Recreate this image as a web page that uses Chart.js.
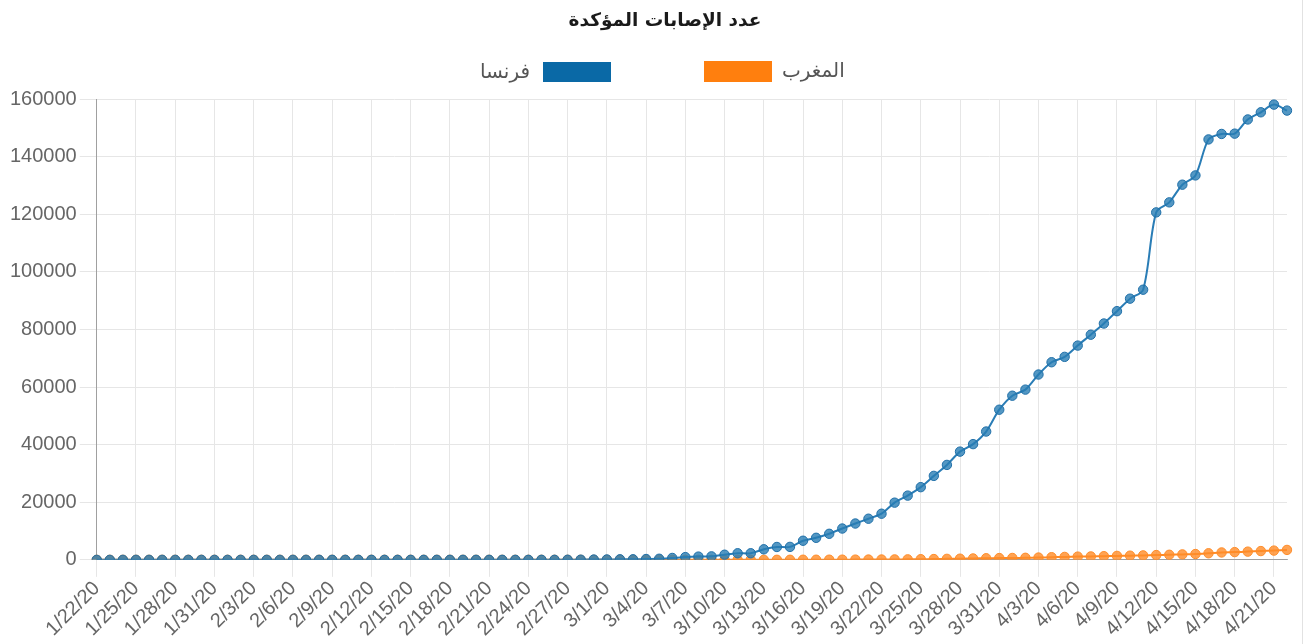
<!DOCTYPE html>
<html>
<head>
<meta charset="utf-8">
<script src="https://cdn.jsdelivr.net/npm/chart.js@4/dist/chart.umd.min.js"></script>
<style>
html,body{margin:0;padding:0;background:#fff;}
#wrap{position:relative;width:1315px;height:644px;overflow:hidden;}
#c{position:absolute;left:0;top:0;}
#vline{position:absolute;left:1302px;top:0;width:1px;height:644px;background:#e2e2e2;}
#ttl{position:absolute;left:465px;width:400px;top:8px;text-align:center;font-family:'DejaVu Sans',sans-serif;font-weight:bold;font-size:18.5px;line-height:24px;color:#1a1a1a;white-space:nowrap;}
.lg{position:absolute;font-family:'DejaVu Sans',sans-serif;font-size:20px;color:#555;line-height:24px;white-space:nowrap;}
.box{position:absolute;}
</style>
</head>
<body>
<div id="wrap">
<canvas id="c" width="1315" height="644"></canvas>
<div id="vline"></div>
<div id="ttl" dir="rtl"></div>
<div class="lg" id="lgFr" dir="rtl" style="right:785px;top:59px;"></div>
<div class="box" id="boxFr" style="left:543px;top:62px;width:68px;height:20px;"></div>
<div class="box" id="boxMa" style="left:704px;top:61px;width:68px;height:21px;"></div>
<div class="lg" id="lgMa" dir="rtl" style="left:782px;top:58px;"></div>
</div>
<script>
const title = 'عدد الإصابات المؤكدة';
const seriesNames = ['فرنسا', 'المغرب'];
const seriesColors = ['#0a69a6', '#ff7f0e'];

const dates = [
'1/22/20','1/23/20','1/24/20','1/25/20','1/26/20','1/27/20','1/28/20','1/29/20','1/30/20','1/31/20',
'2/1/20','2/2/20','2/3/20','2/4/20','2/5/20','2/6/20','2/7/20','2/8/20','2/9/20','2/10/20',
'2/11/20','2/12/20','2/13/20','2/14/20','2/15/20','2/16/20','2/17/20','2/18/20','2/19/20','2/20/20',
'2/21/20','2/22/20','2/23/20','2/24/20','2/25/20','2/26/20','2/27/20','2/28/20','2/29/20',
'3/1/20','3/2/20','3/3/20','3/4/20','3/5/20','3/6/20','3/7/20','3/8/20','3/9/20','3/10/20',
'3/11/20','3/12/20','3/13/20','3/14/20','3/15/20','3/16/20','3/17/20','3/18/20','3/19/20','3/20/20',
'3/21/20','3/22/20','3/23/20','3/24/20','3/25/20','3/26/20','3/27/20','3/28/20','3/29/20','3/30/20','3/31/20',
'4/1/20','4/2/20','4/3/20','4/4/20','4/5/20','4/6/20','4/7/20','4/8/20','4/9/20','4/10/20',
'4/11/20','4/12/20','4/13/20','4/14/20','4/15/20','4/16/20','4/17/20','4/18/20','4/19/20','4/20/20',
'4/21/20','4/22/20'
];

const france = [
0,0,2,3,3,3,4,5,5,5,
6,6,6,6,6,6,6,11,11,11,
11,11,11,11,12,12,12,12,12,12,
12,12,12,12,14,18,38,57,100,
130,191,191,285,377,653,949,1126,1209,1784,
2281,2284,3661,4469,4499,6633,7652,9043,10871,12612,
14282,16018,19856,22304,25233,29155,32964,37575,40174,44550,52128,
56989,59105,64338,68605,70478,74390,78167,82048,86334,90676,
93790,120633,124114,130253,133470,145960,147863,147969,152894,155383,
158050,155980
];

const morocco = [
0,0,0,0,0,0,0,0,0,0,
0,0,0,0,0,0,0,0,0,0,
0,0,0,0,0,0,0,0,0,0,
0,0,0,0,0,0,0,0,0,
0,1,1,1,2,2,2,2,2,2,
5,6,7,17,28,37,44,54,63,79,
96,115,143,170,225,275,345,402,479,556,617,
654,708,791,919,1021,1120,1184,1275,1374,1448,
1545,1661,1763,1888,2024,2283,2564,2685,2855,3046,
3209,3446
];

const yTicks = [0,20000,40000,60000,80000,100000,120000,140000,160000];

document.getElementById('ttl').textContent = title;
document.getElementById('lgFr').textContent = seriesNames[0];
document.getElementById('lgMa').textContent = seriesNames[1];
document.getElementById('boxFr').style.background = seriesColors[0];
document.getElementById('boxMa').style.background = seriesColors[1];

const tickFont = {family: "'Liberation Sans', Arial, sans-serif", size: 20};

new Chart(document.getElementById('c'), {
  type: 'line',
  data: {
    labels: dates,
    datasets: [
      {
        label: seriesNames[0],
        data: france,
        borderColor: '#2a7db6',
        backgroundColor: 'rgba(31,119,180,0.85)',
        pointBackgroundColor: 'rgba(40,125,180,0.8)',
        pointBorderColor: '#1f6fa8',
        pointBorderWidth: 1,
        pointRadius: 4.7,
        borderWidth: 2,
        tension: 0.3,
        fill: false
      },
      {
        label: seriesNames[1],
        data: morocco,
        borderColor: '#ff8a24',
        backgroundColor: 'rgba(255,127,14,0.85)',
        pointBackgroundColor: 'rgba(255,140,40,0.8)',
        pointBorderColor: '#ff8d2a',
        pointBorderWidth: 1,
        pointRadius: 4.7,
        borderWidth: 2,
        tension: 0.3,
        fill: false
      }
    ]
  },
  options: {
    responsive: false,
    animation: false,
    layout: {padding: {left: 7, right: 28, top: 99, bottom: 3}},
    plugins: {
      legend: {display: false},
      tooltip: {enabled: false},
      title: {display: false}
    },
    scales: {
      x: {
        grid: {color: '#e6e6e6', tickLength: 17, lineWidth: 1},
        border: {color: 'rgba(0,0,0,0.3)'},
        ticks: {
          autoSkip: false,
          maxRotation: 45,
          minRotation: 45,
          color: '#666',
          font: tickFont,
          padding: 0,
          callback: function(v, i) { return i % 3 === 0 ? dates[i] : null; }
        }
      },
      y: {
        min: 0,
        max: 160000,
        afterBuildTicks: function(axis) { axis.ticks = yTicks.map(v => ({value: v})); },
        grid: {color: '#e6e6e6', tickLength: 17},
        border: {color: 'rgba(0,0,0,0.3)'},
        ticks: {
          color: '#666',
          font: tickFont,
          padding: 3,
          callback: function(v) { return String(v); }
        }
      }
    }
  }
});
</script>
</body>
</html>
